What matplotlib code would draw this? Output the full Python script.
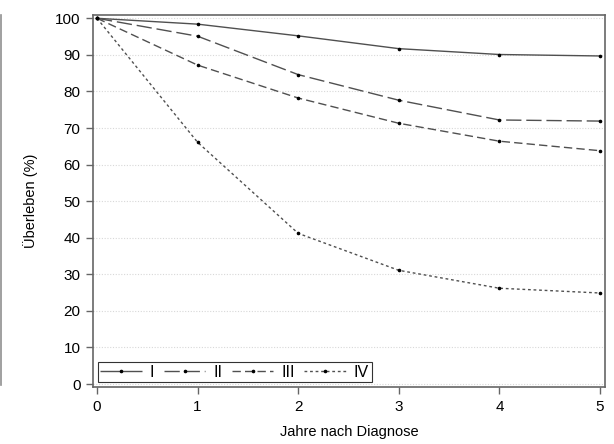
import numpy as np
import matplotlib.pyplot as plt
from matplotlib.lines import Line2D

plt.rcParams['font.family'] = ['Liberation Sans', 'DejaVu Sans']

# survival data
years = [0, 1, 2, 3, 4, 5]
stage_I = [100, 98.4, 95.2, 91.7, 90.1, 89.7]
stage_II = [100, 95.1, 84.6, 77.6, 72.2, 71.9]
stage_III = [100, 87.2, 78.2, 71.3, 66.4, 63.8]
stage_IV = [100, 66.1, 41.2, 31.1, 26.2, 24.9]
labels = ['I', 'II', 'III', 'IV']

fig = plt.figure(figsize=(6.14, 4.44), dpi=100)
ax = fig.add_axes([93/614, 1 - 387/444, 512/614, 372/444])

styles = [(0, ()), (0, (11, 3.5)), (0, (6, 3)), (0, (2, 2))]
series = [stage_I, stage_II, stage_III, stage_IV]
for s, ls, lab in zip(series, styles, labels):
    ax.plot(years, s, color='#505050', lw=1.0, linestyle=ls,
            marker='o', ms=1.6, mfc='black', mec='black', label=lab)

ax.set_xlim(-0.04, 5.05)
ax.set_ylim(-0.8, 100.9)
ax.set_xticks(years)
ax.set_yticks(np.arange(0, 101, 10))
ax.yaxis.grid(True, linestyle=(0, (1, 1.5)), color='#d8d8d8', lw=0.8)
ax.set_axisbelow(True)

for sp in ax.spines.values():
    sp.set_color('#666666')
    sp.set_linewidth(1.2)
ax.tick_params(direction='out', length=5, width=1.0, color='#666666',
               labelsize=11, pad=4)

ax.set_xlabel('Jahre nach Diagnose', fontsize=10.5, labelpad=8)
ax.set_ylabel('Überleben (%)', fontsize=10.5, labelpad=12)

leg = ax.legend(loc='lower left', ncol=4, fontsize=11.5, frameon=True,
                fancybox=False, borderaxespad=0.3, handlelength=2.6,
                handletextpad=0.5, columnspacing=0.6, borderpad=0.15)
leg.get_frame().set_edgecolor('black')
leg.get_frame().set_linewidth(0.8)

# thin frame line at the left edge of the picture
fig.add_artist(Line2D([1/614, 1/614], [1 - 385/444, 1 - 15/444],
                      color='#909090', lw=1.2))

fig.savefig('out.png', dpi=100)
